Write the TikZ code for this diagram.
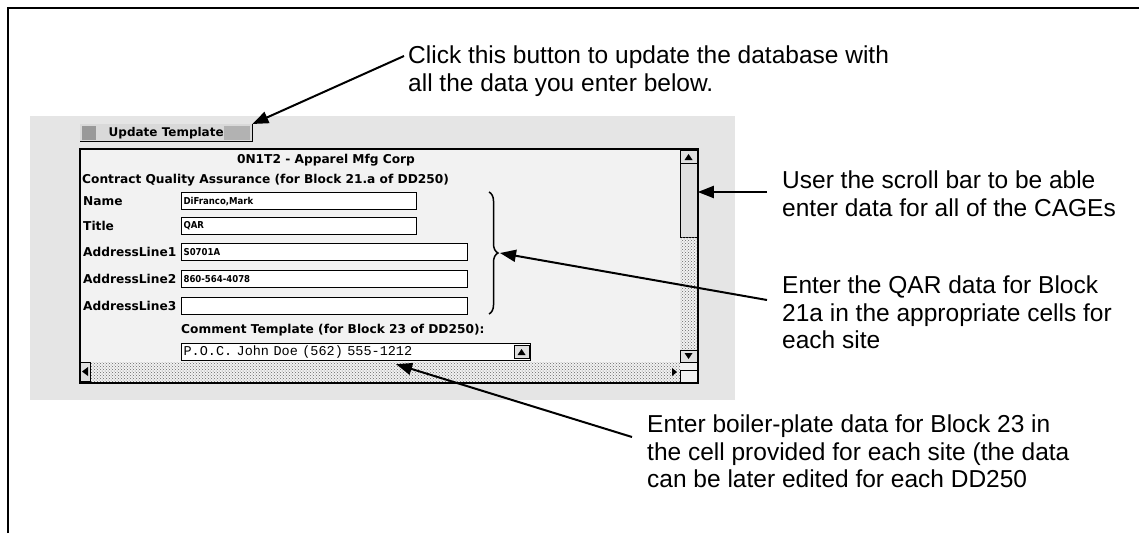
\documentclass[tikz,border=0pt]{standalone}
\usepackage{fontspec}
\setmainfont{Liberation Sans}
\setmonofont{Liberation Mono}
\newfontfamily\guifont{DejaVu Sans}
\newfontfamily\cellfont{DejaVu Sans Condensed}
\usetikzlibrary{arrows.meta, patterns, decorations.pathreplacing}

\tikzset{
    note/.style={anchor=north west, align=left, inner sep=0pt, font=\fontsize{24.5}{27.5}\selectfont},
    pointer/.style={line width=2pt, -{Triangle[length=16pt, width=12pt]}},
    guilabel/.style={anchor=west, inner sep=0pt, font=\guifont\bfseries\fontsize{12.2}{14}\selectfont},
    cell/.style={draw, line width=1.2pt, fill=white, anchor=north west, inner xsep=2pt, inner ysep=0pt,
        text width=#1, align=left, minimum height=17pt, font=\cellfont\bfseries\fontsize{9.5}{11}\selectfont},
    sbtn/.style={draw, line width=0.8pt, fill=black!12, anchor=north west, inner sep=0pt},
    track/.style={pattern=crosshatch dots, pattern color=black!60},
}

\begin{document}
\begin{tikzpicture}[x=1pt, y=-1pt]
    \useasboundingbox (0,0) rectangle (1139,533);
    \draw[line width=2pt] (8,533) -- (8,8) -- (1139,8);

    % screenshot
    \fill[black!10] (30,116) rectangle (735,400);
    \node[draw, line width=1.5pt, fill=black!5, anchor=north west, inner sep=0pt,
        minimum width=618pt, minimum height=234pt] (window) at (79,148) {};
    \node[fill=black!15, anchor=north west, inner sep=0pt, minimum width=172pt, minimum height=17pt,
        font=\guifont\bfseries\fontsize{12}{14}\selectfont] (updbtn) at (80,124) {Update Template};
    \fill[black!40] (82,126) rectangle (96,140);
    \fill[black!30] (224,126) rectangle (250,140);
    \draw[line width=1.5pt] (updbtn.south west) -- (updbtn.south east) -- (updbtn.north east);

    \node[guilabel, anchor=center] (cage) at (326,160) {0N1T2 - Apparel Mfg Corp};
    \node[guilabel] (cqa) at (82,180) {Contract Quality Assurance (for Block 21.a of DD250)};
    \node[guilabel] (lname) at (83,201) {Name};
    \node[guilabel] (ltitle) at (83,226) {Title};
    \node[guilabel] (laddr1) at (83,252) {AddressLine1};
    \node[guilabel] (laddr2) at (83,279) {AddressLine2};
    \node[guilabel] (laddr3) at (83,306) {AddressLine3};

    \node[cell=231pt] (fname) at (181,192) {DiFranco,Mark};
    \node[cell=231pt] (ftitle) at (181,217) {QAR};
    \node[cell=282pt] (faddr1) at (181,243) {S0701A};
    \node[cell=282pt] (faddr2) at (181,270) {860-564-4078};
    \node[cell=282pt] (faddr3) at (181,297) {};

    \node[guilabel] (lcomment) at (181,330) {Comment Template (for Block 23 of DD250):};
    \node[cell=345pt, font=\ttfamily\fontsize{13.5}{15}\selectfont] (comment) at (181,343) {P.O.C. John Doe (562) 555-1212};
    \node[sbtn, minimum width=15pt, minimum height=13pt] (cbtn) at (514,345) {};
    \fill (517.5,355) -- (525.5,355) -- (521.5,349) -- cycle;

    % scroll bars
    \node[sbtn, minimum width=17pt, minimum height=13pt] (vup) at (680,150) {};
    \node[sbtn, minimum width=17pt, minimum height=74pt] (thumb) at (680,163) {};
    \fill[track] (680,237) rectangle (697,350);
    \node[sbtn, minimum width=17pt, minimum height=12pt] (vdown) at (680,350) {};
    \fill[track] (90,362) rectangle (680,381);
    \node[sbtn, minimum width=10pt, minimum height=19pt] (hleft) at (80,362) {};
    \draw[line width=1pt] (680,382) -- (680,370) -- (697,370);
    \fill (684.5,160) -- (692.5,160) -- (688.5,154) -- cycle;
    \fill (684.5,353) -- (692.5,353) -- (688.5,359) -- cycle;
    \fill (88,367) -- (88,376) -- (82,371.5) -- cycle;
    \fill (672,368) -- (672,376) -- (677,372) -- cycle;

    \draw[line width=1.5pt, decorate, decoration={brace, amplitude=9pt}] (489,192) -- (489,314);
    \coordinate (bracetip) at (500,253);

    % notes
    \node[note] (note1) at (408,46) {Click this button to update the database with\\all the data you enter below.};
    \node[note] (note2) at (782,171) {User the scroll bar to be able\\enter data for all of the CAGEs};
    \node[note] (note3) at (782,276) {Enter the QAR data for Block\\21a in the appropriate cells for\\each site};
    \node[note] (note4) at (647,415) {Enter boiler-plate data for Block 23 in\\the cell provided for each site (the data\\can be later edited for each DD250};

    \coordinate (tail2) at ([xshift=-15pt, yshift=-21pt]note2.north west);
    \draw[pointer] ([xshift=-4pt, yshift=-10pt]note1.north west) -- (updbtn.north east);
    \draw[pointer] (tail2) -- (tail2 -| thumb.east);
    \draw[pointer] ([xshift=-15pt, yshift=-24pt]note3.north west) -- (bracetip);
    \draw[pointer] ([xshift=-15pt, yshift=-22pt]note4.north west) -- ([xshift=40pt, yshift=-3pt]comment.south);
\end{tikzpicture}
\end{document}
